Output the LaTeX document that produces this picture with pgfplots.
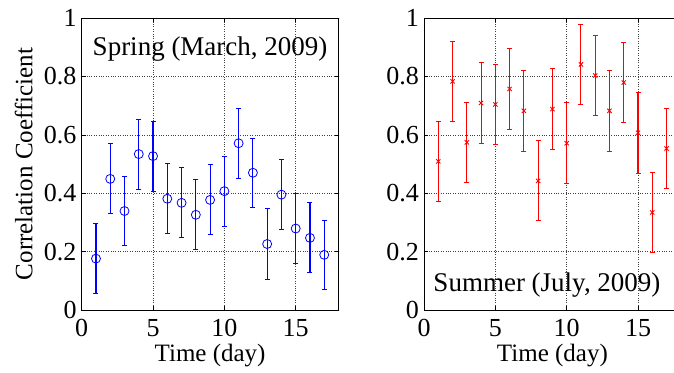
\documentclass[border=0pt]{standalone}
\usepackage{fontspec}
\setmainfont{Liberation Serif}
\usepackage{pgfplots}
\pgfplotsset{compat=1.18}
\pgfplotsset{
  myaxis/.style={
    scale only axis,
    width=256.8pt, height=292pt,
    xmin=0, xmax=18, ymin=0, ymax=1,
    xtick={0,5,10,15},
    ytick={0,0.2,0.4,0.6,0.8,1},
    /pgf/number format/assume math mode=true,
    tick label style={font=\fontsize{26}{30}\selectfont, inner sep=0pt},
    xticklabel style={yshift=-9pt},
    yticklabel style={xshift=-5pt},
    label style={font=\fontsize{25}{30}\selectfont},
    tick align=inside,
    major tick length=4pt,
    grid=major,
    major grid style={dotted, black!75, line width=0.5pt},
    axis line style={line width=0.9pt},
    every tick/.style={black, line width=0.5pt},
    xlabel={Time (day)},
    xlabel style={at={(axis description cs:0.5,0)}, anchor=base, yshift=-51pt, inner sep=0pt},
    anchor=south west,
    unbounded coords=jump,
  },
}
\begin{document}
\begin{tikzpicture}
\begin{axis}[myaxis, at={(81.7pt,62pt)},
  ylabel={Correlation Coefficient},
  ylabel style={at={(axis description cs:0,0.5)}, anchor=center, yshift=58pt, inner sep=0pt},
]
% error bars: lower and upper ends
\addplot[blue, line width=1.1pt, mark=-, mark size=2.5pt, mark options={solid, blue, line width=1pt}]
coordinates {
(1,0.056) (1,0.296) (1,nan)
(2,0.329) (2,0.569) (2,nan)
(3,0.220) (3,0.458) (3,nan)
(4,0.414) (4,0.654) (4,nan)
(5,0.407) (5,0.647) (5,nan)
(6,0.261) (6,0.501) (6,nan)
(7,0.247) (7,0.487) (7,nan)
(8,0.206) (8,0.446) (8,nan)
(9,0.257) (9,0.497) (9,nan)
(10,0.287) (10,0.527) (10,nan)
(11,0.451) (11,0.691) (11,nan)
(12,0.351) (12,0.589) (12,nan)
(13,0.106) (13,0.346) (13,nan)
(14,0.276) (14,0.514) (14,nan)
(15,0.160) (15,0.398) (15,nan)
(16,0.127) (16,0.367) (16,nan)
(17,0.071) (17,0.307)
};
\addplot[only marks, blue, mark=o, mark size=4.5pt, mark options={blue, fill=white, line width=0.8pt}]
coordinates {
(1,0.176) (2,0.449) (3,0.339) (4,0.534) (5,0.527) (6,0.381) (7,0.367) (8,0.326) (9,0.377)
(10,0.407) (11,0.571) (12,0.470) (13,0.226) (14,0.395) (15,0.279) (16,0.247) (17,0.189)
};
\node[anchor=base, font=\fontsize{27}{32}\selectfont, inner sep=0pt] at (axis cs:9,0.873) {Spring (March, 2009)};
\end{axis}
\begin{axis}[myaxis, at={(424pt,62pt)}]
\addplot[red, line width=1.1pt, mark=-, mark size=2.5pt, mark options={solid, red, line width=1pt}]
coordinates {
(1,0.371) (1,0.647) (1,nan)
(2,0.645) (2,0.921) (2,nan)
(3,0.437) (3,0.711) (3,nan)
(4,0.570) (4,0.848) (4,nan)
(5,0.566) (5,0.842) (5,nan)
(6,0.619) (6,0.895) (6,nan)
(7,0.544) (7,0.820) (7,nan)
(8,0.305) (8,0.579) (8,nan)
(9,0.550) (9,0.826) (9,nan)
(10,0.433) (10,0.709) (10,nan)
(11,0.703) (11,0.979) (11,nan)
(12,0.665) (12,0.941) (12,nan)
(13,0.544) (13,0.820) (13,nan)
(14,0.641) (14,0.917) (14,nan)
(15,0.469) (15,0.745) (15,nan)
(16,0.196) (16,0.472) (16,nan)
(17,0.415) (17,0.691)
};
\addplot[only marks, red, mark=x, mark size=3pt, mark options={red, line width=0.9pt}]
coordinates {
(1,0.509) (2,0.783) (3,0.574) (4,0.709) (5,0.704) (6,0.757) (7,0.682) (8,0.442) (9,0.688)
(10,0.571) (11,0.841) (12,0.803) (13,0.682) (14,0.779) (15,0.607) (16,0.334) (17,0.553)
};
\node[anchor=base, font=\fontsize{27}{32}\selectfont, inner sep=0pt] at (axis cs:8.62,0.062) {Summer (July, 2009)};
\end{axis}
\pgfresetboundingbox
\useasboundingbox (0,0) rectangle (674pt,372pt);
\end{tikzpicture}
\end{document}
